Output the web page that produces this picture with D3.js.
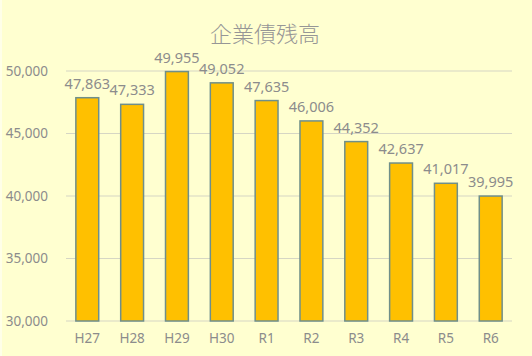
<!DOCTYPE html>
<html><head><meta charset="utf-8">
<script src="https://cdn.jsdelivr.net/npm/d3@7"></script>
<style>html,body{margin:0;padding:0;background:#FFFFD0;}svg{display:block;}</style>
</head><body>
<script>
const categories = ["H27","H28","H29","H30","R1","R2","R3","R4","R5","R6"];
const values = [47863,47333,49955,49052,47635,46006,44352,42637,41017,39995];
const yTicks = [30000,35000,40000,45000,50000];
const title = "企業債残高";

(function(){
const W = 532, H = 356;
const svg = d3.select("body").append("svg").attr("width", W).attr("height", H);
svg.append("rect").attr("width", W).attr("height", H).attr("fill", "#FFFFD0");
svg.append("rect").attr("x",0).attr("y",0).attr("width",2).attr("height",H).attr("fill","#FFFFE8");

const mLeft = 66, mRight = 512, mTop = 71, mBottom = 321;
const x = d3.scaleBand().domain(categories).range([mLeft, mRight]).paddingInner(0.49).paddingOuter(0.22);
const y = d3.scaleLinear().domain([30000, 50000]).range([mBottom, mTop]);
const fmt = d3.format(",");
const font = "'Noto Sans', 'Open Sans', sans-serif";
const grey = "#8c8c8c";

svg.append("g").selectAll("line").data(yTicks).join("line")
  .attr("x1", mLeft).attr("x2", mRight)
  .attr("y1", d => y(d)).attr("y2", d => y(d))
  .attr("stroke", "#d6d6c4").attr("stroke-width", 1.2);

const yAxis = d3.axisLeft(y).tickValues(yTicks).tickFormat(fmt).tickSize(0).tickPadding(0);
const ga = svg.append("g").attr("transform", `translate(${48},0)`).call(yAxis);
ga.select(".domain").remove();
ga.selectAll("text").attr("font-family", font).attr("font-size", 13.5).attr("fill", grey);

const xAxis = d3.axisBottom(x).tickSize(0).tickPadding(0);
const gx = svg.append("g").attr("transform", `translate(0,${333})`).call(xAxis);
gx.select(".domain").remove();
gx.selectAll("text").attr("font-family", font).attr("font-size", 13.5).attr("fill", grey);

svg.append("g").selectAll("rect").data(values).join("rect")
  .attr("x", (d,i) => x(categories[i]))
  .attr("y", d => y(d))
  .attr("width", x.bandwidth())
  .attr("height", d => y(30000) - y(d))
  .attr("fill", "#FFC000")
  .attr("stroke", "#6f8f8a").attr("stroke-width", 1.5);

svg.append("g").selectAll("text").data(values).join("text")
  .attr("x", (d,i) => x(categories[i]) + x.bandwidth()/2)
  .attr("y", d => y(d) - 9)
  .attr("text-anchor", "middle")
  .attr("font-family", font).attr("font-size", 14.5).attr("fill", grey)
  .text(d => fmt(d));

svg.append("text").attr("x", 265).attr("y", 42).attr("text-anchor", "middle")
  .attr("font-family", "'Noto Sans CJK JP', sans-serif").attr("font-weight", 300).attr("font-size", 22)
  .attr("fill", "#969696").text(title);
})();
</script>
</body></html>
